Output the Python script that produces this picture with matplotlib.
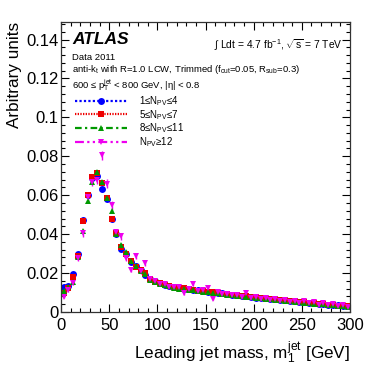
import numpy as np
import matplotlib
matplotlib.use("Agg")
import matplotlib.pyplot as plt
from matplotlib.lines import Line2D

plt.rcParams['font.family'] = ['Liberation Sans', 'DejaVu Sans']
plt.rcParams['mathtext.fontset'] = 'custom'
plt.rcParams['mathtext.rm'] = 'Liberation Sans'
plt.rcParams['mathtext.it'] = 'Liberation Sans:italic'
plt.rcParams['mathtext.sf'] = 'Liberation Sans'

# bin centres (5 GeV bins)
mass = np.arange(2.5, 300, 5.0)

blue = [0.0130, 0.0135, 0.0196, 0.0300, 0.0470, 0.0600, 0.0690, 0.0698, 0.0630, 0.0578,
        0.0480, 0.0400, 0.0322, 0.0300, 0.0258, 0.0235, 0.0215, 0.0192, 0.0168, 0.0158,
        0.0150, 0.0140, 0.0134, 0.0128,
        0.0123, 0.0120, 0.0118, 0.0113, 0.0111, 0.0106, 0.0104, 0.0101, 0.0097, 0.0095,
        0.0092, 0.0088, 0.0087, 0.0083, 0.0080, 0.0078, 0.0074, 0.0072, 0.0070, 0.0066,
        0.0064, 0.0062, 0.0059, 0.0056, 0.0054, 0.0052, 0.0049, 0.0047, 0.0045, 0.0042,
        0.0040, 0.0038, 0.0036, 0.0034, 0.0031, 0.0029]
red = [0.0096, 0.0125, 0.0180, 0.0288, 0.0468, 0.0600, 0.0696, 0.0712, 0.0662, 0.0585,
       0.0477, 0.0405, 0.0336, 0.0300, 0.0260, 0.0233, 0.0216, 0.0200, 0.0168, 0.0155,
       0.0148, 0.0139, 0.0133, 0.0127,
       0.0124, 0.0121, 0.0116, 0.0115, 0.0110, 0.0108, 0.0103, 0.0100, 0.0098, 0.0094,
       0.0093, 0.0089, 0.0086, 0.0084, 0.0081, 0.0077, 0.0076, 0.0073, 0.0069, 0.0067,
       0.0065, 0.0061, 0.0060, 0.0057, 0.0055, 0.0051, 0.0050, 0.0047, 0.0044, 0.0043,
       0.0040, 0.0037, 0.0036, 0.0033, 0.0032, 0.0030]
green = [0.0110, 0.0130, 0.0156, 0.0280, 0.0418, 0.0568, 0.0670, 0.0718, 0.0670, 0.0585,
         0.0520, 0.0400, 0.0345, 0.0310, 0.0262, 0.0236, 0.0212, 0.0195, 0.0165, 0.0152,
         0.0146, 0.0137, 0.0131, 0.0125,
         0.0120, 0.0118, 0.0115, 0.0111, 0.0108, 0.0105, 0.0101, 0.0098, 0.0095, 0.0093,
         0.0089, 0.0087, 0.0084, 0.0081, 0.0079, 0.0076, 0.0073, 0.0071, 0.0068, 0.0065,
         0.0063, 0.0060, 0.0058, 0.0055, 0.0053, 0.0050, 0.0048, 0.0046, 0.0043, 0.0041,
         0.0039, 0.0037, 0.0035, 0.0033, 0.0030, 0.0028]
magenta = [0.0079, 0.0113, 0.0150, 0.0276, 0.0405, 0.0590, 0.0670, 0.0680, 0.0808, 0.0660,
           0.0550, 0.0410, 0.0388, 0.0276, 0.0216, 0.0288, 0.0210, 0.0250, 0.0168, 0.0160,
           0.0145, 0.0145, 0.0128, 0.0130,
           0.0126, 0.0098, 0.0118, 0.0144, 0.0108, 0.0112, 0.0123, 0.0067, 0.0100, 0.0090,
           0.0094, 0.0085, 0.0088, 0.0078, 0.0098, 0.0074, 0.0076, 0.0068, 0.0072, 0.0062,
           0.0068, 0.0058, 0.0062, 0.0052, 0.0058, 0.0048, 0.0054, 0.0044, 0.0050, 0.0038,
           0.0044, 0.0036, 0.0040, 0.0030, 0.0036, 0.0028]

labels = ["1≤N$_{\\rm PV}$≤4", "5≤N$_{\\rm PV}$≤7",
          "8≤N$_{\\rm PV}$≤11", "N$_{\\rm PV}$≥12"]
colors = ['#0000ff', '#ee0000', '#009900', '#ee00ee']
markers = ['o', 's', '^', 'v']
lstyles = [(0, (1, 1)), (0, (0.6, 0.6)), (0, (3, 1.5, 1, 1.5)), (0, (4, 1.5, 1, 1.5, 1, 1.5))]
err_scale = [1.2e-5, 1.2e-5, 1.6e-5, 8e-5]
series = [blue, red, green, magenta]

fig = plt.figure(figsize=(3.82, 3.67), dpi=100)
ax = fig.add_axes([0.160, 0.150, 0.756, 0.790])

for vals, c, m, ls, k in zip(series, colors, markers, lstyles, err_scale):
    v = np.array(vals)
    err = np.sqrt(v * k)
    eb = ax.errorbar(mass, v, yerr=err, fmt=m, color=c, ms=5.0, mew=0,
                     elinewidth=1.0, capsize=0, linestyle='none')
    for bl in eb[2]:
        bl.set_linestyle(ls)

ax.set_xlim(0, 300)
ax.set_ylim(0, 0.149)
ax.set_xticks(np.arange(0, 301, 50))
ax.set_xticks(np.arange(0, 301, 10), minor=True)
ax.set_yticks(np.arange(0, 0.141, 0.02))
ax.set_yticks(np.arange(0, 0.149, 0.004), minor=True)
ax.set_yticklabels(['0', '0.02', '0.04', '0.06', '0.08', '0.1', '0.12', '0.14'])
ax.tick_params(which='both', direction='in', top=True, right=True, labelsize=12)
ax.tick_params(axis='x', pad=4)
ax.tick_params(axis='y', pad=2)
ax.tick_params(which='major', length=6, width=0.8)
ax.tick_params(which='minor', length=3, width=0.8)
for s in ax.spines.values():
    s.set_linewidth(0.9)
    s.set_color('#333333')

ax.set_ylabel('Arbitrary units', fontsize=12.3, loc='top', labelpad=3)
ax.set_xlabel(r'Leading jet mass, m$_{1}^{\rm jet}$ [GeV]', fontsize=12.3, loc='right', labelpad=5)

ax.text(0.038, 0.938, 'ATLAS', transform=ax.transAxes, fontsize=12.5,
        fontweight='bold', fontstyle='italic', va='center', ha='left')
ax.text(0.038, 0.876, 'Data 2011', transform=ax.transAxes, fontsize=6.8, va='center')
ax.text(0.038, 0.836, r'anti-k$_{\rm t}$ with R=1.0 LCW, Trimmed (f$_{\rm cut}$=0.05, R$_{\rm sub}$=0.3)',
        transform=ax.transAxes, fontsize=6.8, va='center')
ax.text(0.038, 0.783, '600 ≤ p$_{\\rm T}^{\\rm jet}$ < 800 GeV, |η| < 0.8',
        transform=ax.transAxes, fontsize=6.8, va='center')
ax.text(0.976, 0.921, r'$\int$ Ldt = 4.7 fb$^{-1}$, $\sqrt{\rm s}$ = 7 TeV',
        transform=ax.transAxes, fontsize=7.4, va='center', ha='right')

handles = [Line2D([], [], color=c, marker=m, linestyle=ls, lw=1.6, ms=5.0, mew=0)
           for c, m, ls in zip(colors, markers, lstyles)]
ax.legend(handles, labels, loc='upper left', bbox_to_anchor=(0.048, 0.752),
          frameon=False, fontsize=7, handlelength=5.4, handletextpad=1.2,
          labelspacing=0.0, borderpad=0, borderaxespad=0, numpoints=1)

fig.savefig('out.png', dpi=100)
